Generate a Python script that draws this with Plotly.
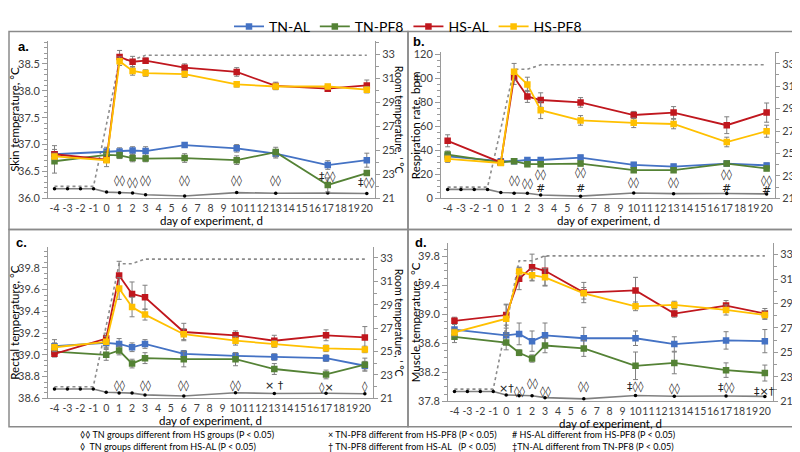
import plotly.graph_objects as go

# ---- data ----
days = [-4, 0, 1, 2, 3, 6, 10, 13, 17, 20]
room_days = [-4, -3, -2, -1, 0, 1, 2, 3, 6, 10, 13, 17, 20]
hs_room = [22.0, 22.0, 22.0, 22.0, 27.2, 32.5, 32.5, 32.9, 32.9, 32.9, 32.9, 32.9, 32.9]
tn_room = [21.8, 21.8, 21.8, 21.8, 21.52, 21.46, 21.45, 21.3, 21.2, 21.48, 21.42, 21.44, 21.4]
day_ticks = list(range(-4, 21))

groups = ["TN-AL", "TN-PF8", "HS-AL", "HS-PF8"]
colors = ["#4472C4", "#548235", "#C0171E", "#FFC000"]

# a. skin temperature
skin_tn_al = [36.82, 36.87, 36.87, 36.89, 36.88, 36.99, 36.93, 36.83, 36.62, 36.71]
skin_tn_pf8 = [36.69, 36.81, 36.80, 36.75, 36.74, 36.75, 36.71, 36.86, 36.25, 36.47]
skin_hs_al = [36.82, 36.72, 38.63, 38.54, 38.56, 38.43, 38.35, 38.09, 38.04, 38.10]
skin_hs_pf8 = [36.78, 36.71, 38.55, 38.37, 38.33, 38.31, 38.12, 38.08, 38.08, 38.02]
skin_tn_al_se = [0.16, 0.08, 0.07, 0.07, 0.08, 0.04, 0.07, 0.08, 0.08, 0.13]
skin_tn_pf8_se = [0.22, 0.08, 0.06, 0.07, 0.06, 0.08, 0.08, 0.09, 0.13, 0.04]
skin_hs_al_se = [0.05, 0.05, 0.12, 0.10, 0.05, 0.07, 0.08, 0.07, 0.04, 0.10]
skin_hs_pf8_se = [0.06, 0.12, 0.08, 0.08, 0.06, 0.06, 0.05, 0.05, 0.04, 0.06]
skin_sig_days = [1, 2, 3, 6, 10, 13, 17, 20]
skin_sig_y = [36.34, 36.30, 36.34, 36.33, 36.33, 36.33, 36.40, 36.29]
skin_sig_text = ["◊◊", "◊◊", "◊◊", "◊◊", "◊◊", "◊◊", "‡◊◊", "‡◊◊"]

# b. respiration rate
resp_tn_al = [35, 31, 31, 32, 32, 34, 28, 26.5, 29, 27.5]
resp_tn_pf8 = [36.5, 30, 31, 28.5, 28.5, 29, 23.5, 23.5, 29, 25]
resp_hs_al = [48, 30, 101, 85, 82, 80, 69.5, 71.5, 61, 71.5]
resp_hs_pf8 = [33, 29.5, 105.5, 95, 73.5, 65, 63, 62, 47, 56]
resp_tn_al_se = [3, 2, 2, 2, 2, 2, 2, 2, 2, 2]
resp_tn_pf8_se = [3, 2, 2, 2, 2, 2, 1, 1, 2, 2]
resp_hs_al_se = [5, 2, 6, 5, 6, 4, 3, 5, 7, 8]
resp_hs_pf8_se = [3, 2, 7, 6, 7, 4, 4, 4, 4, 5]
resp_sig_days = [1, 2, 3, 3, 6, 6, 10, 13, 17, 17, 20, 20]
resp_sig_y = [15, 12.5, 20, 8.5, 21.5, 8.5, 13, 13, 20, 8.5, 15, 6.5]
resp_sig_text = ["◊◊", "◊◊", "◊◊", "#", "◊◊", "#", "◊◊", "◊◊", "◊◊", "#", "◊◊", "#"]

# c. rectal temperature
rect_tn_al = [39.08, 39.11, 39.10, 39.07, 39.10, 39.01, 38.99, 38.98, 38.97, 38.90]
rect_tn_pf8 = [39.03, 39.00, 39.04, 38.92, 38.97, 38.96, 38.96, 38.87, 38.82, 38.91]
rect_hs_al = [39.01, 39.15, 39.73, 39.56, 39.53, 39.21, 39.18, 39.13, 39.18, 39.16]
rect_hs_pf8 = [39.07, 39.12, 39.61, 39.44, 39.37, 39.19, 39.13, 39.10, 39.06, 39.05]
rect_tn_al_se = [0.06, 0.05, 0.05, 0.04, 0.04, 0.03, 0.03, 0.03, 0.03, 0.04]
rect_tn_pf8_se = [0.04, 0.05, 0.04, 0.04, 0.05, 0.07, 0.06, 0.05, 0.04, 0.06]
rect_hs_al_se = [0.03, 0.05, 0.13, 0.11, 0.11, 0.08, 0.04, 0.05, 0.05, 0.10]
rect_hs_pf8_se = [0.04, 0.05, 0.10, 0.09, 0.05, 0.05, 0.04, 0.03, 0.03, 0.03]
rect_sig_days = [1, 3, 6, 10, 13, 17, 20]
rect_sig_y = [38.72, 38.72, 38.72, 38.72, 38.72, 38.70, 38.71]
rect_sig_text = ["◊◊", "◊◊", "◊◊", "◊◊", "× †", "◊×", "◊"]

# d. muscle temperature
musc_tn_al = [38.79, 38.71, 38.73, 38.63, 38.71, 38.67, 38.67, 38.59, 38.64, 38.63]
musc_tn_pf8 = [38.69, 38.61, 38.47, 38.39, 38.57, 38.53, 38.29, 38.33, 38.23, 38.19]
musc_hs_al = [38.91, 38.99, 39.49, 39.65, 39.60, 39.30, 39.33, 39.01, 39.12, 39.01]
musc_hs_pf8 = [38.75, 38.94, 39.59, 39.54, 39.51, 39.29, 39.11, 39.13, 39.06, 38.99]
musc_tn_al_se = [0.10, 0.10, 0.15, 0.14, 0.17, 0.15, 0.10, 0.10, 0.12, 0.16]
musc_tn_pf8_se = [0.08, 0.10, 0.04, 0.05, 0.10, 0.11, 0.19, 0.15, 0.10, 0.11]
musc_hs_al_se = [0.05, 0.14, 0.15, 0.18, 0.20, 0.14, 0.18, 0.05, 0.07, 0.07]
musc_hs_pf8_se = [0.05, 0.20, 0.06, 0.08, 0.12, 0.08, 0.06, 0.05, 0.07, 0.06]
musc_sig_days = [0, 1, 2, 3, 6, 10, 13, 17, 20]
musc_sig_y = [37.98, 37.94, 38.05, 37.94, 38.00, 38.00, 37.97, 37.99, 37.94]
musc_sig_text = ["×†", "◊◊", "◊◊", "◊◊", "◊◊", "‡◊◊", "◊◊", "‡◊◊", "‡×†"]

footnotes = [
    "◊◊ TN groups different from HS groups (P < 0.05)",
    "× TN-PF8 different from HS-PF8 (P < 0.05)",
    "# HS-AL different from HS-PF8 (P < 0.05)",
    "◊  TN groups different from HS-AL (P < 0.05)",
    "† TN-PF8 different from HS-AL   (P < 0.05)",
    "‡TN-AL different from TN-PF8 (P < 0.05)",
]

W, H = 800, 452
FONT = "Lato, 'Open Sans', sans-serif"
AXC = "#9a9a9a"
TXT = "#404040"


def px(x):
    return x / W


def py(y):
    return 1 - y / H


panels = [
    dict(label="a.", ytitle="Skin temperature, °C",
         series=[skin_tn_al, skin_tn_pf8, skin_hs_al, skin_hs_pf8],
         errs=[skin_tn_al_se, skin_tn_pf8_se, skin_hs_al_se, skin_hs_pf8_se],
         sig=(skin_sig_days, skin_sig_y, skin_sig_text),
         xd=(40, 367), yd=(29, 190), yr=[36, 38.92], rr=[21, 34.06],
         tick0=36, dtick=0.5, mdt=0.1, fmt=".1f",
         box=(1, 19, 400, 222), lab=(15, 34), lt=7, rt=391),
    dict(label="b.", ytitle="Respiration rate, bpm",
         series=[resp_tn_al, resp_tn_pf8, resp_hs_al, resp_hs_pf8],
         errs=[resp_tn_al_se, resp_tn_pf8_se, resp_hs_al_se, resp_hs_pf8_se],
         sig=(resp_sig_days, resp_sig_y, resp_sig_text),
         xd=(433, 767), yd=(40, 190), yr=[0, 122], rr=[21, 34.04],
         tick0=0, dtick=20, mdt=5, fmt="d",
         box=(400, 19, 798, 222), lab=(411, 29), lt=407, rt=791),
    dict(label="c.", ytitle="Rectal temperature, °C",
         series=[rect_tn_al, rect_tn_pf8, rect_hs_al, rect_hs_pf8],
         errs=[rect_tn_al_se, rect_tn_pf8_se, rect_hs_al_se, rect_hs_pf8_se],
         sig=(rect_sig_days, rect_sig_y, rect_sig_text),
         xd=(40, 365), yd=(240, 395), yr=[38.6, 39.99], rr=[21, 33.92],
         tick0=38.6, dtick=0.2, mdt=0.05, fmt=".1f",
         box=(1, 222, 400, 424), lab=(13, 235), lt=7, rt=391),
    dict(label="d.", ytitle="Muscle temperature, °C",
         series=[musc_tn_al, musc_tn_pf8, musc_hs_al, musc_hs_pf8],
         errs=[musc_tn_al_se, musc_tn_pf8_se, musc_hs_al_se, musc_hs_pf8_se],
         sig=(musc_sig_days, musc_sig_y, musc_sig_text),
         xd=(440, 765), yd=(236, 398), yr=[37.8, 39.98], rr=[21, 33.93],
         tick0=37.8, dtick=0.4, mdt=0.1, fmt=".1f",
         box=(400, 222, 798, 424), lab=(413, 235), lt=407, rt=791),
]

fig = go.Figure()
layout = {}
annotations = []
shapes = []

for i, p in enumerate(panels, start=1):
    xn = "x" if i == 1 else f"x{i}"
    xk = "xaxis" if i == 1 else f"xaxis{i}"
    rn_i, ln_i = 2 * i - 1, 2 * i
    rn = "y" if rn_i == 1 else f"y{rn_i}"
    rk = "yaxis" if rn_i == 1 else f"yaxis{rn_i}"
    ln = f"y{ln_i}"
    lk = f"yaxis{ln_i}"

    # room temperature (right axis, drawn underneath)
    fig.add_trace(go.Scatter(x=room_days, y=hs_room, mode="lines", xaxis=xn, yaxis=rn,
                             line=dict(color="#8c8c8c", width=1.6, dash="dot"),
                             showlegend=False, hoverinfo="skip"))
    fig.add_trace(go.Scatter(x=room_days, y=tn_room, mode="lines+markers", xaxis=xn, yaxis=rn,
                             line=dict(color="#808080", width=1.6),
                             marker=dict(color="black", size=3.5),
                             showlegend=False, hoverinfo="skip"))

    for g, c, ys, es in zip(groups, colors, p["series"], p["errs"]):
        fig.add_trace(go.Scatter(
            x=days, y=ys, name=g, mode="lines+markers", xaxis=xn, yaxis=ln,
            line=dict(color=c, width=1.8),
            marker=dict(color=c, size=6.5, symbol="square"),
            error_y=dict(type="data", array=es, color="#7f7f7f", thickness=1, width=2.5),
            showlegend=(i == 1), legendgroup=g))

    x0, x1 = p["xd"]
    y0, y1 = p["yd"]
    layout[xk] = dict(domain=[px(x0), px(x1)], anchor=rn, range=[-4.5, 20.63],
                      tickmode="array", tickvals=day_ticks,
                      ticktext=[str(d) for d in day_ticks], tickangle=0,
                      showline=True, linecolor=AXC, linewidth=1, ticks="",
                      showgrid=False, zeroline=False,
                      tickfont=dict(family=FONT, size=10.5, color=TXT))
    layout[rk] = dict(domain=[py(y1), py(y0)], anchor=xn, side="right", range=p["rr"],
                      tickmode="linear", tick0=21, dtick=2,
                      ticks="outside", ticklen=4, tickcolor=AXC,
                      minor=dict(dtick=1, ticks="outside", ticklen=3, tickcolor=AXC),
                      showline=True, linecolor=AXC, linewidth=1,
                      showgrid=False, zeroline=False,
                      tickfont=dict(family=FONT, size=11, color=TXT))
    layout[lk] = dict(overlaying=rn, anchor=xn, side="left", range=p["yr"],
                      tickmode="linear", tick0=p["tick0"], dtick=p["dtick"],
                      tickformat=p["fmt"],
                      ticks="outside", ticklen=5, tickcolor=AXC,
                      minor=dict(dtick=p["mdt"], ticks="outside", ticklen=3, tickcolor=AXC),
                      showline=True, linecolor=AXC, linewidth=1,
                      showgrid=False, zeroline=False,
                      tickfont=dict(family=FONT, size=11, color=TXT))

    # significance marks
    for d, v, t in zip(*p["sig"]):
        annotations.append(dict(x=d, y=v, xref=xn, yref=ln, text=t, showarrow=False,
                                font=dict(family="DejaVu Sans", size=11, color="#222")))

    # titles and labels
    annotations.append(dict(x=px(p["lab"][0]), y=py(p["lab"][1]), xref="paper", yref="paper",
                            xanchor="center", yanchor="middle",
                            text=f"<b>{p['label']}</b>", showarrow=False,
                            font=dict(family="Liberation Sans", size=13, color="black")))
    annotations.append(dict(x=px(p["lt"]), y=py((y0 + y1) / 2), xref="paper", yref="paper",
                            xanchor="center", yanchor="middle",
                            text=p["ytitle"], textangle=-90, showarrow=False,
                            font=dict(family=FONT, size=11.5, color="black")))
    annotations.append(dict(x=px(p["rt"]), y=py((y0 + y1) / 2), xref="paper", yref="paper",
                            xanchor="center", yanchor="middle",
                            text="Room temperature, ' °C", textangle=90, showarrow=False,
                            font=dict(family=FONT, size=10.5, color="black")))
    annotations.append(dict(x=px((x0 + x1) / 2), y=py(y1 + 23), xref="paper", yref="paper",
                            xanchor="center", yanchor="middle",
                            text="day of experiment, d", showarrow=False,
                            font=dict(family=FONT, size=11.5, color="black")))

    bx0, by0, bx1, by1 = p["box"]
    shapes.append(dict(type="rect", xref="paper", yref="paper",
                       x0=px(bx0), x1=px(bx1), y0=py(by1), y1=py(by0),
                       line=dict(color="#8a8a8a", width=1.5)))

# footnotes
foot_x = [70, 318, 502]
foot_y = [432, 444]
for k, t in enumerate(footnotes):
    annotations.append(dict(x=px(foot_x[k % 3]), y=py(foot_y[k // 3]), xref="paper", yref="paper",
                            text=t, showarrow=False, xanchor="left", yanchor="middle",
                            font=dict(family=FONT, size=9, color="black")))

fig.update_layout(
    width=W, height=H,
    margin=dict(l=0, r=0, t=0, b=0),
    paper_bgcolor="white", plot_bgcolor="white",
    showlegend=True,
    legend=dict(orientation="h", x=0.5, xanchor="center", y=1.005, yanchor="top",
                itemwidth=30, font=dict(family=FONT, size=14, color="black"),
                bgcolor="rgba(0,0,0,0)"),
    annotations=annotations,
    shapes=shapes,
    **layout,
)

fig.write_html("out.html")
